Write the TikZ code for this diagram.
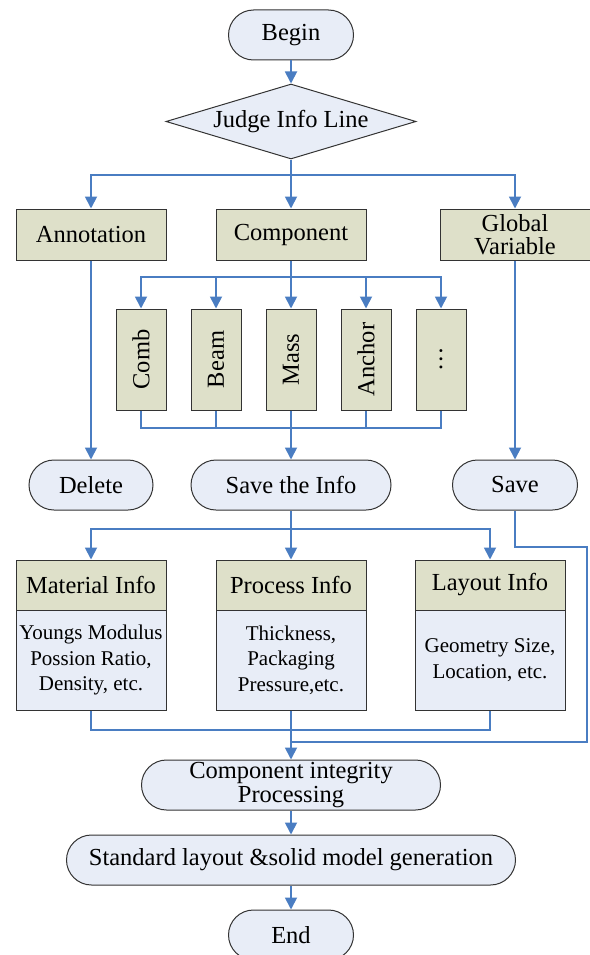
\documentclass[tikz,border=0pt]{standalone}
\usepackage{fontspec}
\setmainfont{Liberation Serif}
\usepackage{tikz}
\usetikzlibrary{arrows.meta,shapes.geometric}
\definecolor{flowblue}{rgb}{0.29,0.49,0.76}
\definecolor{termfill}{rgb}{0.91,0.93,0.97}
\definecolor{boxfill}{rgb}{0.87,0.88,0.79}
\definecolor{edgegray}{rgb}{0.2,0.2,0.2}
\tikzset{
    term/.style={draw=edgegray, line width=1pt, fill=termfill, rounded corners=25pt,
        minimum height=50pt, inner sep=0pt, align=center, font=\fontsize{24.5}{24}\selectfont},
    decision/.style={diamond, draw=edgegray, line width=1pt, fill=termfill, shape aspect=3.33,
        minimum width=250pt, minimum height=75pt, inner sep=0pt, font=\fontsize{24.5}{22}\selectfont},
    procbox/.style={draw=edgegray, line width=1pt, fill=boxfill, minimum width=150pt,
        minimum height=51pt, inner sep=0pt, align=center, font=\fontsize{24.5}{23}\selectfont},
    partbox/.style={procbox, minimum width=101pt, minimum height=50pt, rotate=90},
    bodybox/.style={draw=edgegray, line width=1pt, fill=termfill, minimum width=150pt,
        minimum height=100pt, inner sep=0pt, align=center, font=\fontsize{21}{25.5}\selectfont},
    flow/.style={draw=flowblue, line width=1.8pt},
    flowarrow/.style={flow, -{Triangle[width=12pt,length=12pt]}}
}
\newcommand{\infobox}[4]{
    % header on top, details below
    \node[procbox, minimum height=50pt] (#1head) at (#2,585) {#3};
    \node[bodybox] (#1body) at (#2,660) {#4};
}

\begin{document}
\begin{tikzpicture}[x=1pt, y=-1pt]
    \useasboundingbox (0,0) rectangle (589,955);

    % start and first decision
    \node[term, minimum width=125pt] (begin) at (291,35) {Begin};
    \node[decision] (judge) at (291,121.5) {Judge Info Line};

    % kinds of info line
    \node[procbox] (annot) at (91,234.5) {Annotation};
    \node[procbox] (comp) at (291,234.5) {Component};
    \node[procbox] (global) at (515,234.5) {Global\\Variable};

    % component parts
    \node[partbox] (comb) at (141,359.5) {Comb};
    \node[partbox] (beam) at (216,359.5) {Beam};
    \node[partbox] (mass) at (291,359.5) {Mass};
    \node[partbox] (anchor) at (366,359.5) {Anchor};
    \node[partbox] (more) at (441,359.5) {\dots};

    % what is done with each kind
    \node[term, minimum width=124pt] (delete) at (91,485) {Delete};
    \node[term, minimum width=200pt] (saveinfo) at (291,485) {Save the Info};
    \node[term, minimum width=125pt] (save) at (515,485) {Save};

    % info groups
    \infobox{mat}{91}{Material Info}{Youngs Modulus\\Possion Ratio,\\Density, etc.}
    \infobox{pro}{291}{Process Info}{Thickness,\\Packaging\\Pressure,etc.}
    \infobox{lay}{490}{Layout Info}{Geometry Size,\\Location, etc.}

    % last steps
    \node[term, minimum width=299pt] (cip) at (291,785) {Component integrity\\Processing};
    \node[term, minimum width=449pt] (std) at (291,860) {Standard layout \&solid model generation};
    \node[term, minimum width=125pt] (finish) at (291,935) {End};

    % branch points
    \coordinate (split1) at (291,175);
    \coordinate (split2) at (291,277);
    \coordinate (merge2) at (291,428);
    \coordinate (split3) at (291,529);
    \coordinate (saveturn) at (587,547);
    \coordinate (merge3) at (291,730);
    \coordinate (merge4) at (291,742);

    \draw[flowarrow] (begin) -- (judge);
    \draw[flow] (judge) -- (split1);
    \foreach \k in {annot,comp,global}
    \draw[flowarrow] (split1) -| (\k);

    \draw[flow] (comp) -- (split2);
    \foreach \p in {comb,beam,mass,anchor,more}
    \draw[flowarrow] (split2) -| (\p);
    \foreach \p in {comb,beam,anchor,more}
    \draw[flow] (\p) |- (merge2);
    \draw[flowarrow] (mass) -- (saveinfo);

    \draw[flowarrow] (annot) -- (delete);
    \draw[flowarrow] (global) -- (save);

    \draw[flow] (saveinfo) -- (split3);
    \foreach \g in {mathead,prohead,layhead}
    \draw[flowarrow] (split3) -| (\g);

    % everything meets above the integrity step
    \draw[flow] (matbody) |- (merge3);
    \draw[flow] (laybody) |- (merge3);
    \draw[flow] (save) |- (saveturn) |- (merge4);
    \draw[flowarrow] (probody) -- (cip);

    \draw[flowarrow] (cip) -- (std);
    \draw[flowarrow] (std) -- (finish);
\end{tikzpicture}
\end{document}
